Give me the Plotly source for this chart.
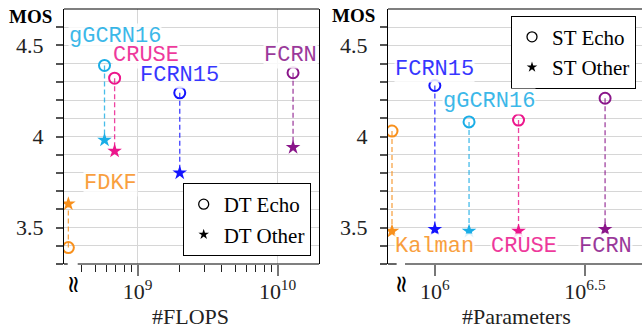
import math
import plotly.graph_objects as go

# ---------------- data ----------------
# Left panel: double-talk (DT) MOS vs. #FLOPS (FDKF drawn at the broken-axis position)
dt_methods = ["FDKF", "gGCRN16", "CRUSE", "FCRN15", "FCRN"]
dt_flops = [3.2e8, 5.8e8, 6.85e8, 2.0e9, 1.29e10]
dt_echo = [3.39, 4.39, 4.32, 4.24, 4.35]
dt_other = [3.63, 3.98, 3.92, 3.80, 3.94]

# Right panel: single-talk (ST) MOS vs. #Parameters (Kalman drawn at the broken-axis position)
st_methods = ["Kalman", "FCRN15", "gGCRN16", "CRUSE", "FCRN"]
st_params = [7.2e5, 1.0e6, 1.3e6, 1.9e6, 3.69e6]
st_echo = [4.03, 4.28, 4.08, 4.09, 4.21]
st_other = [3.48, 3.49, 3.48, 3.48, 3.49]

y_ticks = [3.3, 3.4, 3.5, 3.6, 3.7, 3.8, 3.9, 4.0, 4.1, 4.2, 4.3, 4.4, 4.5, 4.6]
y_tick_labels = ["", "", "3.5", "", "", "", "", "4", "", "", "", "", "4.5", ""]
flops_ticks = [1e9, 1e10]
flops_tick_labels = ["10<sup>9</sup>", "10<sup>10</sup>"]
param_ticks = [1e6, 10 ** 6.5]
param_tick_labels = ["10<sup>6</sup>", "10<sup>6.5</sup>"]

# ---------------- styles ----------------
COLORS = {
    "FDKF": "#f8901c", "Kalman": "#f8901c",
    "gGCRN16": "#1aade6", "CRUSE": "#ec168c",
    "FCRN15": "#1414ff", "FCRN": "#8a168a",
}
# label offsets in px relative to (x, anchor y) ; anchor: 'echo' or 'other'
DT_LABEL = {
    "FDKF": ("other", 42, 20), "gGCRN16": ("echo", 10, 29), "CRUSE": ("echo", 31, 23),
    "FCRN15": ("echo", 0, 17), "FCRN": ("echo", -3, 17),
}
ST_LABEL = {
    "Kalman": ("other", 42, -15), "FCRN15": ("echo", 0, 16), "gGCRN16": ("echo", 20, 20),
    "CRUSE": ("other", 5, -15), "FCRN": ("other", 0, -17),
}
SERIF = "Liberation Serif"
MONO = "Liberation Mono"
W, H = 642, 329
GRID = "#d6d6d6"

fig = go.Figure()


def add_panel(methods, xs, echo, other, xa, ya, legend, names, labels):
    for m, x, e, o in zip(methods, xs, echo, other):
        fig.add_trace(go.Scatter(
            x=[x, x], y=[e, o], mode="lines", xaxis=xa, yaxis=ya,
            line=dict(color=COLORS[m], width=1.3, dash="5px,3px"),
            opacity=0.8, showlegend=False, hoverinfo="skip"))
    fig.add_trace(go.Scatter(
        x=xs, y=echo, mode="markers", xaxis=xa, yaxis=ya, showlegend=False,
        marker=dict(symbol="circle-open", size=11, color=[COLORS[m] for m in methods],
                    line=dict(width=2, color=[COLORS[m] for m in methods]))))
    fig.add_trace(go.Scatter(
        x=xs, y=other, mode="markers", xaxis=xa, yaxis=ya, showlegend=False,
        marker=dict(symbol="star", size=11, color=[COLORS[m] for m in methods],
                    line=dict(width=0))))
    # legend entries
    fig.add_trace(go.Scatter(
        x=[None], y=[None], mode="markers", xaxis=xa, yaxis=ya, name=names[0], legend=legend,
        marker=dict(symbol="circle-open", size=10, color="black", line=dict(width=1.3, color="black"))))
    fig.add_trace(go.Scatter(
        x=[None], y=[None], mode="markers", xaxis=xa, yaxis=ya, name=names[1], legend=legend,
        marker=dict(symbol="star", size=8, color="black")))
    for m, x, e, o in zip(methods, xs, echo, other):
        which, dx, dy = labels[m]
        fig.add_annotation(
            x=math.log10(x), y=e if which == "echo" else o, xref=xa, yref=ya,
            xanchor="center", yanchor="middle",
            text=m, showarrow=False, xshift=dx, yshift=dy, bgcolor="white", borderpad=0,
            font=dict(family=MONO, size=22, color=COLORS[m]), opacity=0.85)


add_panel(dt_methods, dt_flops, dt_echo, dt_other, "x", "y", "legend",
          ["DT Echo", "DT Other"], DT_LABEL)
add_panel(st_methods, st_params, st_echo, st_other, "x2", "y2", "legend2",
          ["ST Echo", "ST Other"], ST_LABEL)

L1, R1 = 64 / W, 319 / W
L2, R2 = 388 / W, 1.0
YB, YT = (H - 264) / H, (H - 9) / H

yaxis_common = dict(
    range=[3.3, 4.7], tickmode="array", tickvals=y_ticks, ticktext=y_tick_labels,
    ticks="outside", ticklen=7, tickwidth=1.5, tickcolor="#555",
    showgrid=True, gridcolor=GRID, gridwidth=1.3, zeroline=False,
    showline=True, linecolor="black", linewidth=1.2, ticklabelstandoff=8,
    tickfont=dict(family=SERIF, size=22, color="#222"), domain=[YB, YT], automargin=False,
)
minor_vals = [k * 1e8 for k in range(4, 10)] + [k * 1e9 for k in range(2, 10)]

fig.update_layout(
    template="none",
    width=W, height=H, margin=dict(l=0, r=0, t=0, b=0, autoexpand=False),
    plot_bgcolor="white", paper_bgcolor="white",
    xaxis=dict(type="log", domain=[L1, R1], range=[8.474, 10.296], automargin=False,
               tickmode="array", tickvals=flops_ticks, ticktext=flops_tick_labels,
               ticks="outside", ticklen=11, tickwidth=2, tickcolor="#777",
               showgrid=True, gridcolor=GRID, gridwidth=1.3, zeroline=False, showline=False,
               minor=dict(tickvals=minor_vals, ticks="outside", ticklen=7, tickwidth=1.2,
                          tickcolor="#222", showgrid=False),
               ticklabelstandoff=-3,
               tickfont=dict(family=SERIF, size=22, color="#222"), anchor="y"),
    yaxis=dict(**yaxis_common, mirror=True, anchor="x"),
    xaxis2=dict(type="log", domain=[L2, R2], range=[5.844, 6.69], automargin=False,
                tickmode="array", tickvals=param_ticks, ticktext=param_tick_labels,
                ticks="outside", ticklen=11, tickwidth=2, tickcolor="#777",
                showgrid=False, zeroline=False, showline=False, ticklabelstandoff=-3,
                tickfont=dict(family=SERIF, size=22, color="#222"), anchor="y2"),
    yaxis2=dict(**yaxis_common, mirror=False, anchor="x2"),
    legend=dict(x=310.7 / W, xanchor="right", y=(H - 256) / H, yanchor="bottom",
                bordercolor="black", borderwidth=1, bgcolor="white", itemwidth=30,
                font=dict(family=SERIF, size=21, color="black"), tracegroupgap=0),
    legend2=dict(x=636 / W, xanchor="right", y=(H - 15.7) / H, yanchor="top",
                 bordercolor="black", borderwidth=1, bgcolor="white", itemwidth=30,
                 font=dict(family=SERIF, size=21, color="black"), tracegroupgap=0),
)

# frame: top line and broken bottom axis
for xr, yr, gap in [("x domain", "y domain", (0.0145, 0.0537)), ("x2 domain", "y2 domain", (0.034, 0.067))]:
    fig.add_shape(type="line", xref=xr, yref=yr, x0=0, x1=1, y0=1, y1=1,
                  line=dict(color="black", width=1.2))
    fig.add_shape(type="line", xref=xr, yref=yr, x0=0, x1=gap[0], y0=0, y1=0,
                  line=dict(color="black", width=1.2))
    fig.add_shape(type="line", xref=xr, yref=yr, x0=gap[1], x1=1, y0=0, y1=0,
                  line=dict(color="black", width=1.2))
    fig.add_annotation(xref=xr, yref=yr, x=(gap[0] + gap[1]) / 2 + 0.005, y=-0.08,
                       xanchor="center", yanchor="middle",
                       text="≈", textangle=90, showarrow=False,
                       font=dict(family="DejaVu Sans", size=24, color="black"))

# axis titles
for x, y, text, size, col in [(30, 17, "<b>MOS</b>", 19, "black"), (354, 15, "<b>MOS</b>", 19, "black"),
                              (191, 316, "#FLOPS", 22, "#222"), (516, 316, "#Parameters", 22, "#222")]:
    fig.add_annotation(xref="paper", yref="paper", x=x / W, y=(H - y) / H, text=text,
                       xanchor="center", yanchor="middle", showarrow=False,
                       font=dict(family=SERIF, size=size, color=col))

fig.write_html("out.html", config={"displayModeBar": False},
               post_script="document.body.style.margin='0';document.body.style.overflow='hidden';")
